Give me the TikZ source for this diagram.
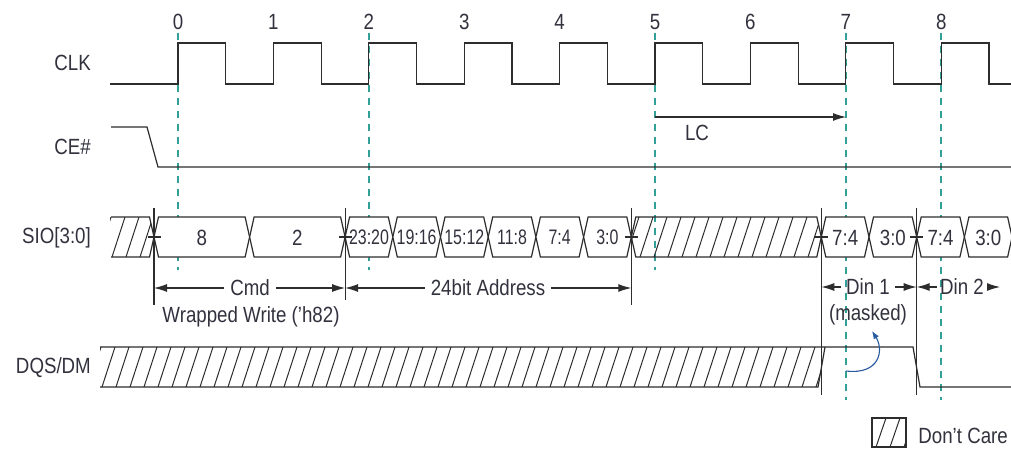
\documentclass[tikz,border=0pt]{standalone}
\usepackage{fontspec}
\setmainfont{Liberation Sans}[FakeStretch=0.85]
\newfontfamily\cellfont{Liberation Sans}[FakeStretch=0.76]
\usetikzlibrary{arrows.meta}
\definecolor{gridteal}{RGB}{50,160,150}
\definecolor{ink}{RGB}{45,45,45}
\definecolor{txt}{RGB}{50,50,62}
\definecolor{curveblue}{RGB}{40,90,160}
\newcommand\buscell[4]{%
  \draw[sig,fill=white] (#1,237)--(#1+4.5,217)--(#2-4.5,217)--(#2,237)--(#2-4.5,257)--(#1+4.5,257)--cycle;
  \node[lbl] (#3) at ({(#1+#2)/2},237.5) {#4};}
\begin{document}
\begin{tikzpicture}[x=1pt,y=-1pt,
  sig/.style={draw=ink,line width=1.2pt},
  gridline/.style={draw=gridteal,line width=1.3pt,dash pattern=on 7pt off 6pt},
  lbl/.style={text=txt,font=\fontsize{22}{24}\selectfont,inner sep=0pt},
  clbl/.style={text=txt,font=\cellfont\fontsize{21}{24}\selectfont,inner sep=0pt},
  hatchline/.style={draw=ink,line width=1pt},
  marker/.style={draw=ink,line width=1.2pt},
  dim/.style={draw=ink,line width=1.1pt,-{Latex[length=13pt,width=8pt]}},
  ]
\useasboundingbox (0,0) rectangle (1011,449);
\fill[white] (0,0) rectangle (1011,449);

% dashed reference lines
\draw[gridline] (178,33) -- (178,270);
\draw[gridline] (369,33) -- (369,270);
\draw[gridline] (655,33) -- (655,270);
\draw[gridline] (846,33) -- (846,400);
\draw[gridline] (941,33) -- (941,400);

% clock numbers
\foreach \k in {0,...,8} {\node[lbl] (n\k) at ({178+95.4*\k},22) {\k};}

% signal labels
\node[lbl,anchor=east] (lclk) at (91,63) {CLK};
\node[lbl,anchor=east] (lce) at (91,147) {CE\#};
\node[lbl,anchor=east] (lsio) at (91,238) {SIO[3:0]};
\node[lbl,anchor=east] (ldqs) at (91,368) {DQS/DM};

% CLK
\draw[sig] (110,84)
  \foreach \k in {0,...,8} {-- ({178+95.4*\k},84) -- ({178+95.4*\k},43) -- ({178+95.4*\k+47.7},43) -- ({178+95.4*\k+47.7},84)}
  -- (1012,84);

% CE#
\draw[sig] (111,127) -- (147,127) -- (158,167) -- (1012,167);

% LC
\coordinate (lcA) at (655,117);
\coordinate (lcB) at (846,117);
\draw[dim] (lcA) -- (lcB);
\node[lbl] (lc) at (697,133) {LC};

% SIO left hatched
\begin{scope}
\clip (110,217) -- (149.5,217) -- (154,237) -- (149.5,257) -- (110,257) -- cycle;
\foreach \x in {98,112,...,160} {\draw[hatchline] (\x,257) -- ++(13,-40);}
\end{scope}
\draw[sig] (111,217) -- (149.5,217) -- (154,237) -- (149.5,257) -- (111,257);

% SIO middle hatched
\begin{scope}
\clip (631.3,237) -- (635.8,217) -- (816.8,217) -- (821.3,237) -- (816.8,257) -- (635.8,257) -- cycle;
\foreach \x in {626,640,...,830} {\draw[hatchline] (\x,257) -- ++(13,-40);}
\end{scope}
\draw[sig] (631.3,237) -- (635.8,217) -- (816.8,217) -- (821.3,237) -- (816.8,257) -- (635.8,257) -- cycle;

% SIO cells
\buscell{154}{249.6}{c8}{8}
\buscell{249.6}{345.1}{c2}{2}
\draw[sig,fill=white] (345.1,237)--(349.6,217)--(388.3,217)--(392.8,237)--(388.3,257)--(349.6,257)--cycle;
\node[clbl] (a1) at (369,237.5) {23:20};
\draw[sig,fill=white] (392.8,237)--(397.3,217)--(436,217)--(440.5,237)--(436,257)--(397.3,257)--cycle;
\node[clbl] (a2) at (416.6,237.5) {19:16};
\draw[sig,fill=white] (440.5,237)--(445,217)--(483.7,217)--(488.2,237)--(483.7,257)--(445,257)--cycle;
\node[clbl] (a3) at (464.3,237.5) {15:12};
\draw[sig,fill=white] (488.2,237)--(492.7,217)--(531.4,217)--(535.9,237)--(531.4,257)--(492.7,257)--cycle;
\node[clbl] (a4) at (512,237.5) {11:8};
\draw[sig,fill=white] (535.9,237)--(540.4,217)--(579.1,217)--(583.6,237)--(579.1,257)--(540.4,257)--cycle;
\node[clbl] (a5) at (559.7,237.5) {7:4};
\draw[sig,fill=white] (583.6,237)--(588.1,217)--(626.8,217)--(631.3,237)--(626.8,257)--(588.1,257)--cycle;
\node[clbl] (a6) at (607.4,237.5) {3:0};
\buscell{821.3}{869}{d1}{7:4}
\buscell{869}{916.7}{d2}{3:0}
\buscell{916.7}{964.4}{d3}{7:4}
\buscell{964.4}{1012.1}{d4}{3:0}

% vertical markers with ticks
\coordinate (m0) at (154,288);
\coordinate (m1) at (345.1,288);
\coordinate (m2) at (631.3,288);
\coordinate (m3) at (821.3,287);
\coordinate (m4) at (916.7,287);
\coordinate (m5) at (1000,287);
\draw[marker] (154,208) -- (154,305);
\draw[marker] (345.1,208) -- (345.1,300);
\draw[marker] (631.3,208) -- (631.3,305);
\draw[marker] (821.3,208) -- (821.3,395);
\draw[marker] (916.7,208) -- (916.7,395);
\foreach \x in {154,345.1,631.3,821.3,916.7} {\draw[marker] (\x-6.5,237) -- (\x+6.5,237);}

% dimension labels
\node[lbl,inner sep=6pt] (cmd) at (250,288) {Cmd};
\draw[dim] (cmd.west) -- (m0);
\draw[dim] (cmd.east) -- (m1);
\node[lbl,inner sep=6pt] (addr) at (488,288) {24bit Address};
\draw[dim] (addr.west) -- (m1);
\draw[dim] (addr.east) -- (m2);
\node[lbl] (ww) at (251,317) {Wrapped Write (’h82)};
\node[lbl,inner sep=5pt] (din1) at (868,287) {Din 1};
\draw[dim] (din1.west) -- (m3);
\draw[dim] (din1.east) -- (m4);
\node[lbl,inner sep=3pt] (din2) at (962,287) {Din 2};
\draw[dim] (din2.west) -- (m4);
\draw[dim] (din2.east) -- (m5);
\node[lbl] (masked) at (868,315) {(masked)};

% DQS/DM
\begin{scope}
\clip (100,347) -- (825,347) -- (818,387) -- (100,387) -- cycle;
\foreach \x in {88,102,...,830} {\draw[hatchline] (\x,387) -- ++(13,-40);}
\end{scope}
\draw[sig] (100,347) -- (913,347) -- (920,387) -- (1012,387);
\draw[sig] (100,387) -- (818,387) -- (825,347);

% blue arrow
\coordinate (bstart) at (846,371);
\coordinate (bend) at (872,331);
\draw[curveblue,line width=1.1pt,-{Latex[length=8pt,width=6pt]}] (bstart) .. controls (880,375) and (884,350) .. (bend);

% legend
\begin{scope}
\clip (872,418) rectangle (906,447);
\foreach \x in {862,876,...,906} {\draw[hatchline] (\x,447) -- ++(10,-29);}
\end{scope}
\draw[ink,line width=1.1pt] (872,418) rectangle (906,447);
\node[lbl,anchor=east] (dc) at (1008,436) {Don’t Care};
\end{tikzpicture}
\end{document}
